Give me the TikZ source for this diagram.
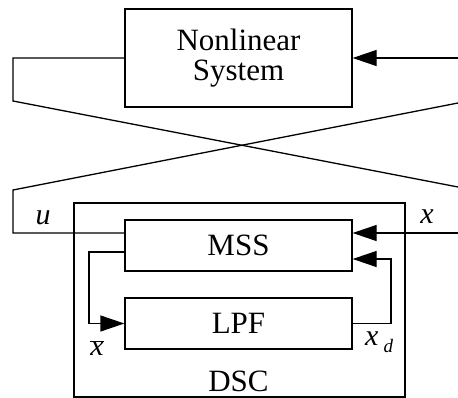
\documentclass[tikz,border=0pt]{standalone}
\usepackage{fontspec}
\setmainfont{Liberation Serif}
\usetikzlibrary{arrows.meta}
\begin{document}
\begin{tikzpicture}[x=1pt,y=-1pt,
  blk/.style={draw,line width=1.3pt,minimum width=227pt,inner sep=0pt,font=\fontsize{31}{30}\selectfont,align=center},
  wire/.style={line width=1.3pt},
  arr/.style={line width=1.3pt,-{Triangle[length=24pt,width=16pt]}},
  lbl/.style={font=\fontsize{30}{30}\selectfont\itshape,inner sep=0pt}]
\useasboundingbox (0,0) rectangle (458,398);
% blocks
\node[blk,minimum height=98pt] (ns) at (238.5,58) {Nonlinear\\System};
\node[draw,line width=2.6pt,minimum width=331pt,minimum height=194pt,inner sep=0pt] (dsc) at (239.5,300) {};
\node[blk,minimum height=51pt] (mss) at (238.5,245.5) {MSS};
\node[blk,minimum height=51pt] (lpf) at (238.5,323.5) {LPF};
\node[font=\fontsize{31}{30}\selectfont,inner sep=0pt] (dsclbl) at (238.5,381) {DSC};
% crossing wires between the plant and the controller
\coordinate (lt) at (13,58);
\coordinate (lb) at (13,101);
\coordinate (rb) at (458,187);
\coordinate (rt) at (458,103);
\coordinate (lb2) at (13,190);
\coordinate (lu) at (13,233);
\coordinate (rin) at (458,58);
\coordinate (xin) at (458,233);
\draw[wire] (ns.west) -- (lt) -- (lb) -- (rb);
\draw[wire] (rt) -- (lb2) -- (lu) -- (mss.west |- lu);
\draw[arr] (rin) -- (ns.east);
\draw[arr] (xin) -- (mss.east |- xin);
% inner loop
\coordinate (xbl) at (89,252);
\coordinate (xdr) at (391,259);
\draw[arr] (mss.west |- xbl) -- (xbl) -- (xbl |- lpf.west) -- (lpf.west);
\draw[arr] (lpf.east) -- (xdr |- lpf.east) -- (xdr) -- (mss.east |- xdr);
% signal labels
\node[lbl] (ulbl) at (43,218) {u};
\node[lbl] (xlbl) at (427,217) {x};
\node[lbl] (xbar) at (97,348) {$\overline{\mbox{\itshape x}}$};
\node[lbl,anchor=west] (xd) at (365,342) {x\,\raisebox{-7pt}{\fontsize{19}{19}\selectfont d}};
\end{tikzpicture}
\end{document}
